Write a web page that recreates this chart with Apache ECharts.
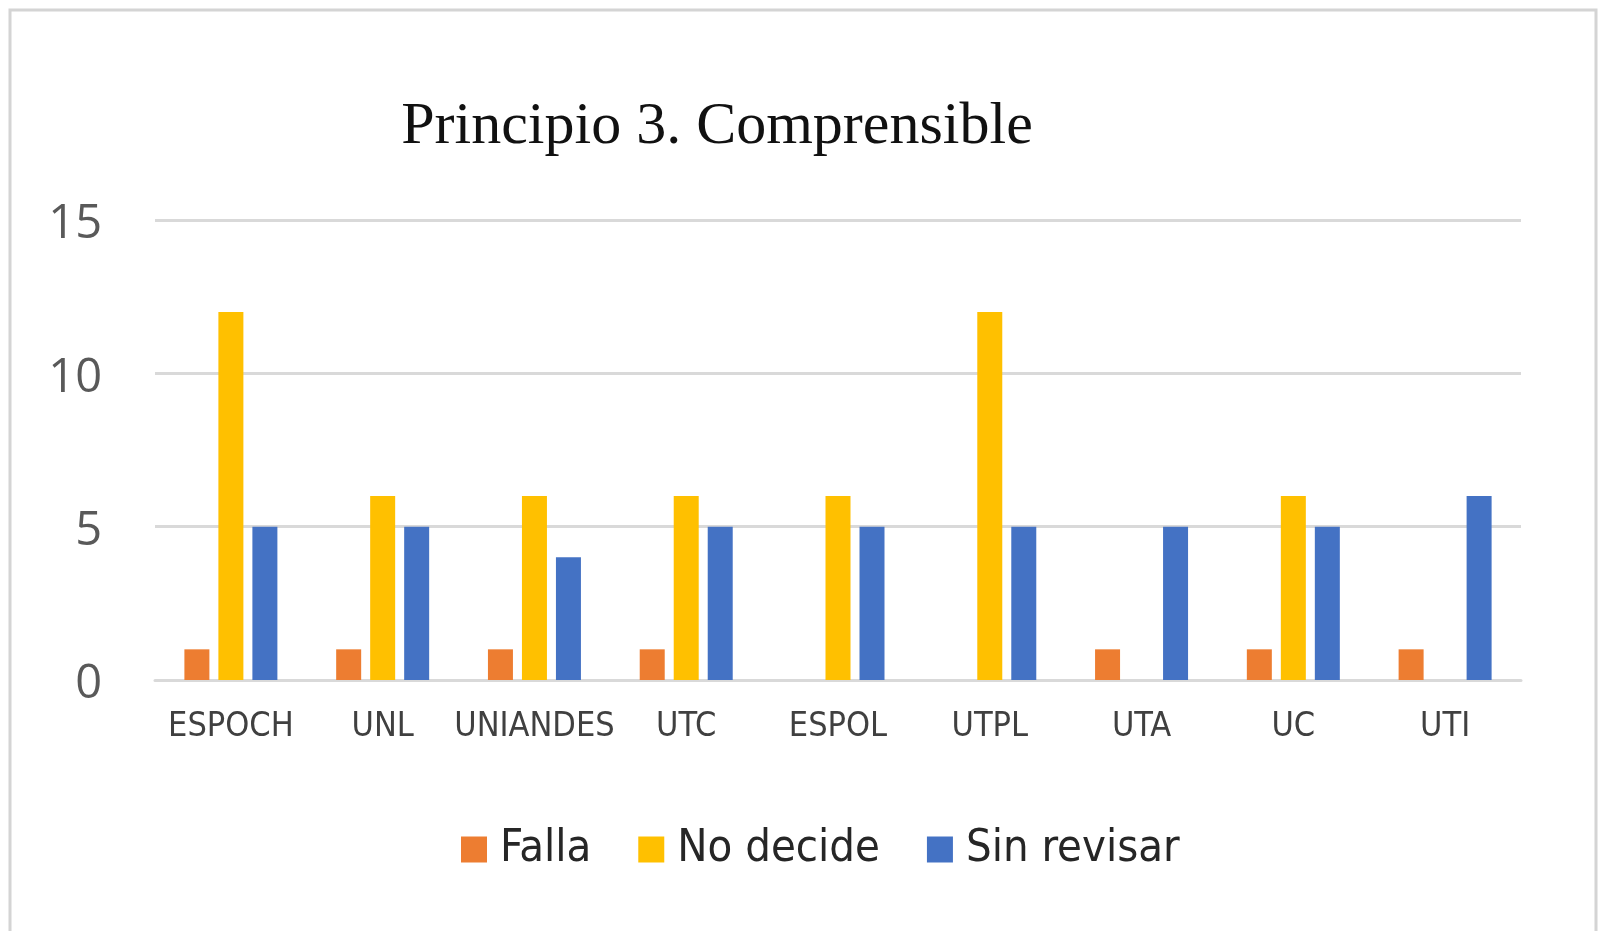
<!DOCTYPE html>
<html>
<head>
<meta charset="utf-8">
<title>Principio 3. Comprensible</title>
<script src="https://cdn.jsdelivr.net/npm/echarts@6/dist/echarts.min.js"></script>
<style>
  html, body { margin: 0; padding: 0; background: #fff; }
  #chart { width: 1604px; height: 931px; }
</style>
</head>
<body>
<div id="chart"></div>
<script>
// universidades (eje x)
const universidades = ['ESPOCH', 'UNL', 'UNIANDES', 'UTC', 'ESPOL', 'UTPL', 'UTA', 'UC', 'UTI']
// valores por serie
const falla = [1, 1, 1, 1, 0, 0, 1, 1, 1]
const noDecide = [12, 6, 6, 6, 6, 12, 0, 6, 0]
const sinRevisar = [5, 5, 4, 5, 5, 5, 5, 5, 6]
// marcas del eje y
const yTicks = [0, 5, 10, 15]

const colores = ['#ED7D31', '#FFC000', '#4472C4']
const narrow = "'DejaVu Sans Condensed', 'Liberation Sans Narrow', 'Liberation Sans', sans-serif"

const myChart = echarts.init(document.getElementById('chart'))

const option = {
  backgroundColor: '#ffffff',
  animation: false,
  color: colores,
  title: {
    text: 'Principio 3. Comprensible',
    left: 712,
    textAlign: 'center',
    top: 92,
    textStyle: {
      fontFamily: "'Liberation Serif', 'Times New Roman', serif",
      fontSize: 60,
      fontWeight: 'normal',
      color: '#111'
    }
  },
  // marco gris alrededor del gráfico
  graphic: [{
    type: 'rect',
    shape: { x: 10, y: 10, width: 1586, height: 940 },
    style: { fill: 'none', stroke: '#d4d4d4', lineWidth: 3 },
    silent: true
  }],
  legend: {
    data: ['Falla', 'No decide', 'Sin revisar'],
    left: 456,
    top: 822,
    icon: 'rect',
    itemWidth: 26,
    itemHeight: 26,
    itemGap: 47,
    textStyle: {
      fontFamily: narrow,
      fontSize: 45,
      color: '#262626',
      padding: [0, 0, 0, 8]
    }
  },
  grid: {
    left: 155,
    right: 83,
    top: 220,
    bottom: 251,
    containLabel: false
  },
  xAxis: {
    type: 'category',
    data: universidades,
    axisTick: { show: false },
    axisLine: { lineStyle: { color: '#d9d9d9', width: 3 } },
    axisLabel: {
      interval: 0,
      margin: 30,
      fontFamily: narrow,
      fontSize: 34,
      color: '#404040'
    }
  },
  yAxis: {
    type: 'value',
    min: yTicks[0],
    max: yTicks[yTicks.length - 1],
    interval: 5,
    axisLine: { show: false },
    axisTick: { show: false },
    splitLine: { lineStyle: { color: '#d9d9d9', width: 3 } },
    axisLabel: {
      margin: 53,
      verticalAlign: 'top',
      lineHeight: 10,
      fontFamily: "'Open Sans', 'Liberation Sans', sans-serif",
      fontSize: 47,
      color: '#595959'
    }
  },
  series: [
    { name: 'Falla', type: 'bar', data: falla, barWidth: 25, barGap: '36%' },
    { name: 'No decide', type: 'bar', data: noDecide, barWidth: 25, barGap: '36%' },
    { name: 'Sin revisar', type: 'bar', data: sinRevisar, barWidth: 25, barGap: '36%' }
  ]
}

myChart.setOption(option)
</script>
</body>
</html>
